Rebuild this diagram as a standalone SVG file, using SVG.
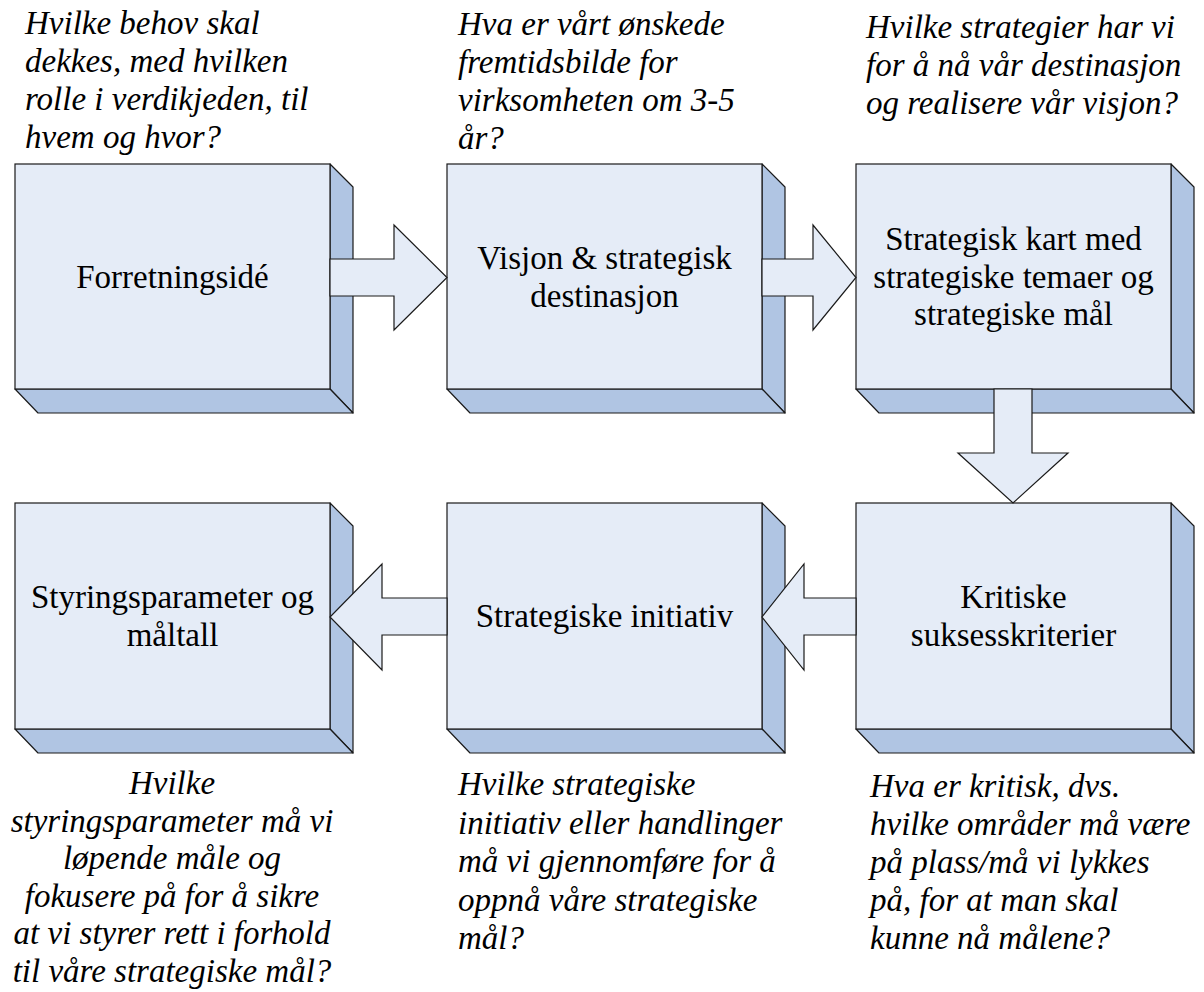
<svg xmlns="http://www.w3.org/2000/svg" width="1204" height="992" viewBox="0 0 1204 992">
<style>
.front{fill:#E5ECF7;stroke:#1a1a1a;stroke-width:1.2}
.side{fill:#B0C5E3;stroke:#1a1a1a;stroke-width:1.2;stroke-linejoin:round}
.arrow{fill:#E5ECF7;stroke:#1a1a1a;stroke-width:1.2}
.lbl{font-family:"Liberation Serif","Times New Roman",serif;font-size:33px;fill:#000;text-anchor:middle}
.note{font-family:"Liberation Serif","Times New Roman",serif;font-size:33px;font-style:italic;fill:#000}
</style>
<rect width="1204" height="992" fill="#fff"/>
<g id="node-forretningside">
<polygon class="side" points="330,164 353,187 353,413 330,389"/>
<polygon class="side" points="15,389 330,389 353,413 38,413"/>
<rect class="front" x="15" y="164" width="315" height="225"/>
<text class="lbl" x="172.5" y="288">Forretningsidé</text>
</g>
<g id="node-visjon">
<polygon class="side" points="762,164 785,187 785,413 762,389"/>
<polygon class="side" points="447,389 762,389 785,413 470,413"/>
<rect class="front" x="447" y="164" width="315" height="225"/>
<text class="lbl" x="604.5" y="269">Visjon &amp; strategisk</text>
<text class="lbl" x="604.5" y="306.5">destinasjon</text>
</g>
<g id="node-strategisk-kart">
<polygon class="side" points="1171,164 1194,187 1194,413 1171,389"/>
<polygon class="side" points="856,389 1171,389 1194,413 879,413"/>
<rect class="front" x="856" y="164" width="315" height="225"/>
<text class="lbl" x="1013.5" y="250">Strategisk kart med</text>
<text class="lbl" x="1013.5" y="287.5">strategiske temaer og</text>
<text class="lbl" x="1013.5" y="325">strategiske mål</text>
</g>
<g id="node-kritiske">
<polygon class="side" points="1171,503 1194,526 1194,753 1171,729"/>
<polygon class="side" points="856,729 1171,729 1194,753 879,753"/>
<rect class="front" x="856" y="503" width="315" height="226"/>
<text class="lbl" x="1013.5" y="608">Kritiske</text>
<text class="lbl" x="1013.5" y="646">suksesskriterier</text>
</g>
<g id="node-initiativ">
<polygon class="side" points="762,503 785,526 785,753 762,729"/>
<polygon class="side" points="447,729 762,729 785,753 470,753"/>
<rect class="front" x="447" y="503" width="315" height="226"/>
<text class="lbl" x="604.5" y="627">Strategiske initiativ</text>
</g>
<g id="node-styringsparameter">
<polygon class="side" points="330,503 353,526 353,753 330,729"/>
<polygon class="side" points="15,729 330,729 353,753 38,753"/>
<rect class="front" x="15" y="503" width="315" height="226"/>
<text class="lbl" x="172.5" y="608">Styringsparameter og</text>
<text class="lbl" x="172.5" y="646">måltall</text>
</g>
<g id="connectors">
<polygon class="arrow" points="330,259 394,259 394,225 447,277.5 394,330 394,296 330,296"/>
<polygon class="arrow" points="762,259 813,259 813,225 856,277.5 813,330 813,296 762,296"/>
<polygon class="arrow" points="994,389 1032,389 1032,453 1068,453 1013,503 958,453 994,453"/>
<polygon class="arrow" points="856,598 804,598 804,564 762,617 804,670 804,635 856,635"/>
<polygon class="arrow" points="447,598 382,598 382,564 330,617 382,670 382,635 447,635"/>
</g>
<g id="annotations">
<text id="note-behov" class="note"><tspan x="25" y="34">Hvilke behov skal</tspan><tspan x="25" y="72">dekkes, med hvilken</tspan><tspan x="25" y="110">rolle i verdikjeden, til</tspan><tspan x="25" y="148">hvem og hvor?</tspan></text>
<text id="note-fremtid" class="note"><tspan x="458" y="35">Hva er vårt ønskede</tspan><tspan x="458" y="73">fremtidsbilde for</tspan><tspan x="458" y="111">virksomheten om 3-5</tspan><tspan x="458" y="149">år?</tspan></text>
<text id="note-strategier" class="note"><tspan x="866" y="38">Hvilke strategier har vi</tspan><tspan x="866" y="76">for å nå vår destinasjon</tspan><tspan x="866" y="114">og realisere vår visjon?</tspan></text>
<text id="note-styring" class="note" text-anchor="middle"><tspan x="172" y="794">Hvilke</tspan><tspan x="172" y="831.6">styringsparameter må vi</tspan><tspan x="172" y="869.2">løpende måle og</tspan><tspan x="172" y="906.8">fokusere på for å sikre</tspan><tspan x="172" y="944.4">at vi styrer rett i forhold</tspan><tspan x="172" y="982">til våre strategiske mål?</tspan></text>
<text id="note-initiativ" class="note"><tspan x="458" y="795">Hvilke strategiske</tspan><tspan x="458" y="833.5">initiativ eller handlinger</tspan><tspan x="458" y="872">må vi gjennomføre for å</tspan><tspan x="458" y="910.5">oppnå våre strategiske</tspan><tspan x="458" y="949">mål?</tspan></text>
<text id="note-kritisk" class="note"><tspan x="870" y="797">Hva er kritisk, dvs.</tspan><tspan x="870" y="835">hvilke områder må være</tspan><tspan x="870" y="873">på plass/må vi lykkes</tspan><tspan x="870" y="911">på, for at man skal</tspan><tspan x="870" y="949">kunne nå målene?</tspan></text>
</g>
</svg>
